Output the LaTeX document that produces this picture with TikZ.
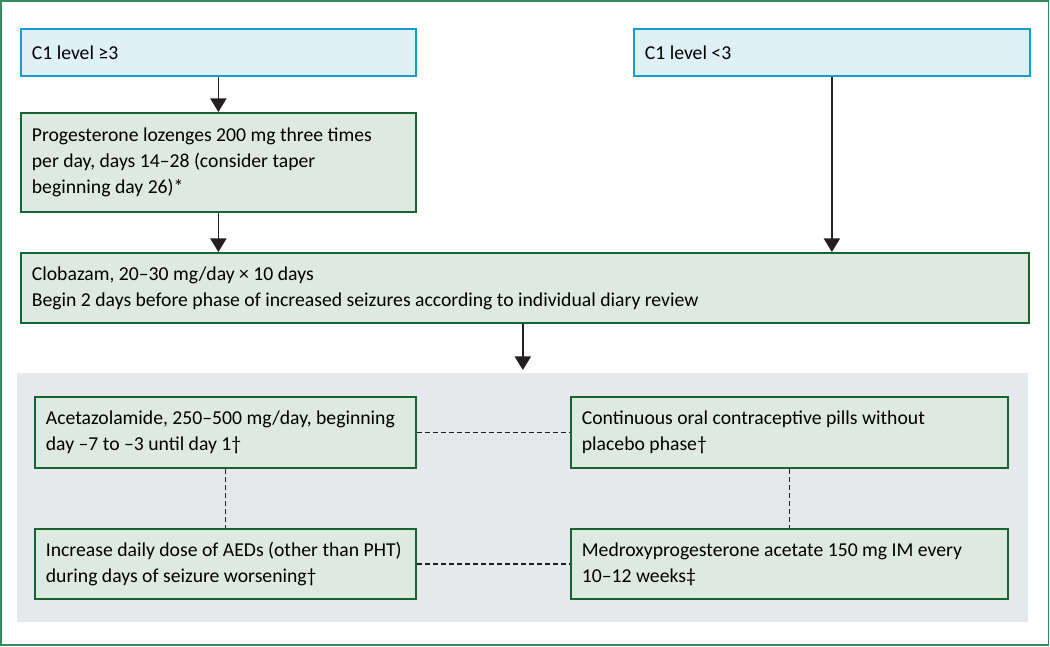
\documentclass[tikz,border=0pt]{standalone}
\usepackage{fontspec}
\setmainfont{Carlito}
\usetikzlibrary{arrows.meta}
\definecolor{frame}{RGB}{52,140,94}
\definecolor{bluefill}{RGB}{224,240,247}
\definecolor{blueline}{RGB}{20,158,208}
\definecolor{greenfill}{RGB}{221,233,225}
\definecolor{greenline}{RGB}{24,100,46}
\definecolor{panelfill}{RGB}{230,233,236}
\definecolor{arrowgray}{RGB}{35,31,32}

\begin{document}
\begin{tikzpicture}[
  font=\fontsize{11.2}{14.8}\selectfont,
  box/.style={rectangle,draw,line width=1pt,anchor=north west,align=flush left,
    inner xsep=0.22cm,inner ysep=0pt,text width=#1cm-0.44cm,minimum width=#1cm},
  level/.style={box=#1,fill=bluefill,draw=blueline},
  dose/.style={box=#1,fill=greenfill,draw=greenline},
  go/.style={draw=arrowgray,line width=1pt,-{Triangle[width=0.32cm,length=0.27cm]}},
  link/.style={draw=arrowgray,line width=0.8pt,dash pattern=on 0.1cm off 0.06cm}]
\useasboundingbox (0,0) rectangle (21,-12.94);
\draw [frame,line width=1pt] (0.02,-0.02) rectangle (20.97,-12.9);
\node [level=7.9,minimum height=0.94cm] (high) at (0.4,-0.56) {C1 level ≥3};
\node [level=7.92,minimum height=0.94cm] (low) at (12.66,-0.56) {C1 level <3};
\node [dose=7.9,minimum height=1.98cm] (prog) at (0.4,-2.24)
  {Progesterone lozenges 200 mg three times\\per day, days 14–28 (consider taper\\beginning day 26)*};
\node [dose=20.16,minimum height=1.4cm] (clob) at (0.4,-5.04)
  {Clobazam, 20–30 mg/day × 10 days\\Begin 2 days before phase of increased seizures according to individual diary review};
\node [rectangle,fill=panelfill,anchor=north west,minimum width=20.22cm,minimum height=4.98cm,inner sep=0pt] (panel) at (0.34,-7.46) {};
\node [dose=7.62,minimum height=1.42cm] (acet) at (0.68,-7.92)
  {Acetazolamide, 250–500 mg/day, beginning\\day –7 to –3 until day 1†};
\node [dose=7.62,minimum height=1.4cm] (aed) at (0.68,-10.56)
  {Increase daily dose of AEDs (other than PHT)\\during days of seizure worsening†};
\node [dose=8.74,minimum height=1.42cm] (pill) at (11.4,-7.92)
  {Continuous oral contraceptive pills without\\placebo phase†};
\node [dose=8.74,minimum height=1.4cm] (medro) at (11.4,-10.56)
  {Medroxyprogesterone acetate 150 mg IM every\\10–12 weeks‡};
\path [go] (high) -- (prog);
\path [go] (prog.south) -- (prog.south |- clob.north);
\path [go] (low.south) -- (low.south |- clob.north);
\path [go] (clob.south -| panel.north) -- ([yshift=0.06cm]panel.north);
\path [link] (acet) -- (pill);
\path [link] (aed) -- (medro);
\path [link] (acet) -- (aed);
\path [link] (pill) -- (medro);
\end{tikzpicture}
\end{document}
